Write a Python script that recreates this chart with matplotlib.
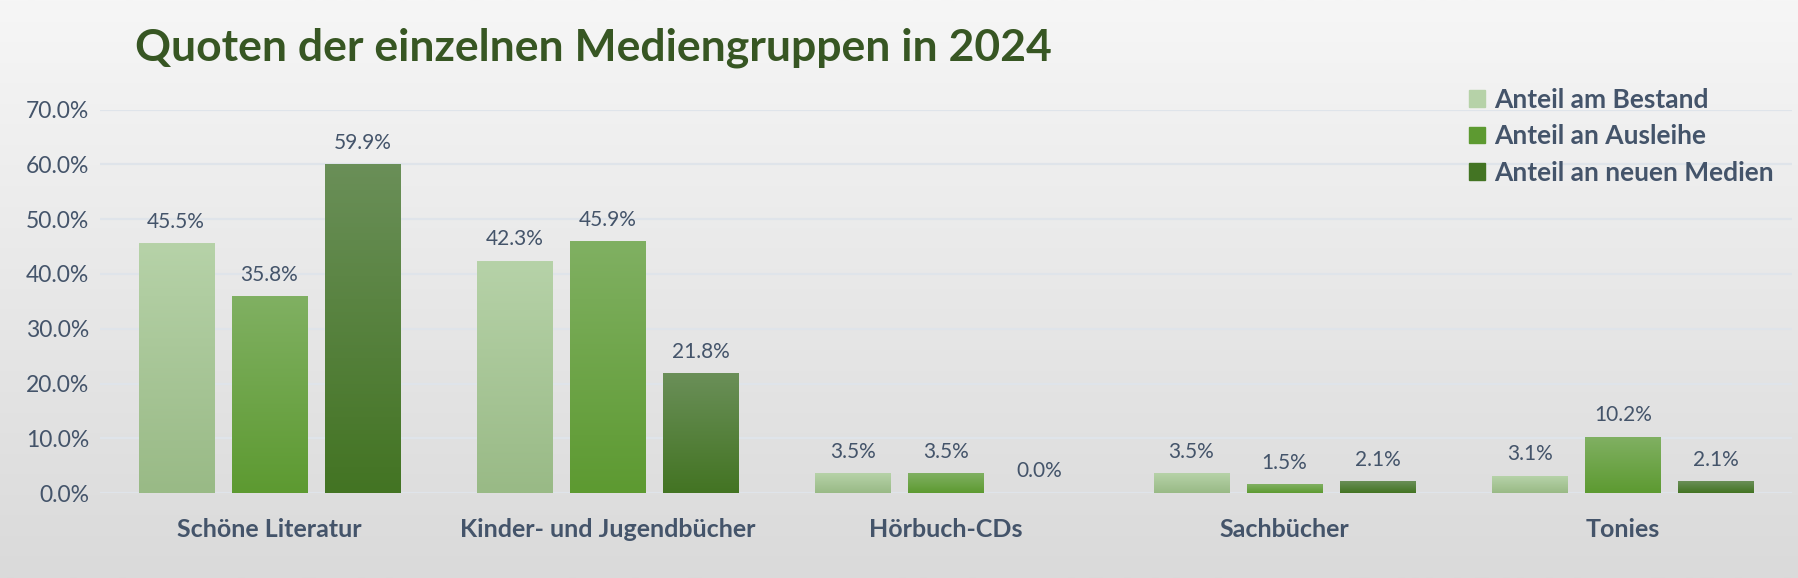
import numpy as np
import matplotlib
matplotlib.use("Agg")
import matplotlib.pyplot as plt
from matplotlib.colors import LinearSegmentedColormap

plt.rcParams['font.family'] = ['Lato', 'DejaVu Sans']

categories = ['Schöne Literatur', 'Kinder- und Jugendbücher', 'Hörbuch-CDs', 'Sachbücher', 'Tonies']
series_names = ['Anteil am Bestand', 'Anteil an Ausleihe', 'Anteil an neuen Medien']
bestand = [45.5, 42.3, 3.5, 3.5, 3.1]
ausleihe = [35.8, 45.9, 3.5, 1.5, 10.2]
neue_medien = [59.9, 21.8, 0.0, 2.1, 2.1]
yticks = [0, 10, 20, 30, 40, 50, 60, 70]

# gradient colours (top, bottom) per series
grad = [('#b6d2a8', '#99ba86'), ('#80b062', '#5d9a31'), ('#6a8f58', '#437423')]
text_col = '#44546a'

fig = plt.figure(figsize=(17.99, 5.78), dpi=100)

# background gradient
bg = fig.add_axes([0, 0, 1, 1], zorder=0)
bg_cmap = LinearSegmentedColormap.from_list('bg', ['#dadada', '#f6f6f6'])
bg.imshow(np.linspace(0, 1, 256).reshape(-1, 1), cmap=bg_cmap, aspect='auto',
          origin='lower', extent=[0, 1, 0, 1])
bg.axis('off')

ax = fig.add_axes([100 / 1799, 1 - 493.3 / 578, 1692 / 1799, 383.8 / 578], zorder=1)
ax.patch.set_alpha(0)

x = np.arange(len(categories))
width = 0.222
step = 0.275
data = [bestand, ausleihe, neue_medien]

for i, vals in enumerate(data):
    bars = ax.bar(x + (i - 1) * step, vals, width, color=grad[i][0], label=series_names[i],
                  zorder=2, linewidth=0)
    cmap = LinearSegmentedColormap.from_list('g%d' % i, [grad[i][1], grad[i][0]])
    for b, v in zip(bars, vals):
        b.set_alpha(0)
        if v > 0:
            ax.imshow(np.linspace(0, 1, 100).reshape(-1, 1), cmap=cmap, aspect='auto',
                      origin='lower', zorder=3,
                      extent=[b.get_x(), b.get_x() + b.get_width(), 0, v])
        ax.text(b.get_x() + b.get_width() / 2, v + 2.2, '%.1f%%' % v, ha='center',
                va='bottom', color=text_col, fontsize=15)

ax.set_xlim(-0.5, len(categories) - 0.5)
ax.set_ylim(0, 70)
ax.set_yticks(yticks)
ax.set_yticklabels(['%.1f%%' % t for t in yticks], color=text_col, fontsize=16.5)
ax.set_xticks(x)
ax.set_xticklabels(categories, color=text_col, fontsize=18, fontweight='bold')
ax.tick_params(length=0)
ax.tick_params(axis='x', pad=18)
ax.tick_params(axis='y', pad=8)
ax.grid(axis='y', color='#dfe4ea', linewidth=1.6, zorder=1)
for s in ax.spines.values():
    s.set_visible(False)

# legend with gradient-less proxy squares
leg = ax.legend(handles=[plt.Rectangle((0, 0), 1, 1, color=grad[i][0] if i == 0 else grad[i][1]) for i in range(3)],
                labels=series_names, loc='upper right', bbox_to_anchor=(1.0, 1.105),
                frameon=False, fontsize=19, handlelength=0.6, handleheight=0.6,
                handletextpad=0.35, labelspacing=0.48, borderaxespad=0.3)
for t in leg.get_texts():
    t.set_color(text_col)
    t.set_fontweight('bold')

fig.text(135 / 1799, 1 - 48 / 578, 'Quoten der einzelnen Mediengruppen in 2024', color='#375623',
         fontsize=32, fontweight='bold', va='center', ha='left')

fig.savefig('out.png', dpi=100)
